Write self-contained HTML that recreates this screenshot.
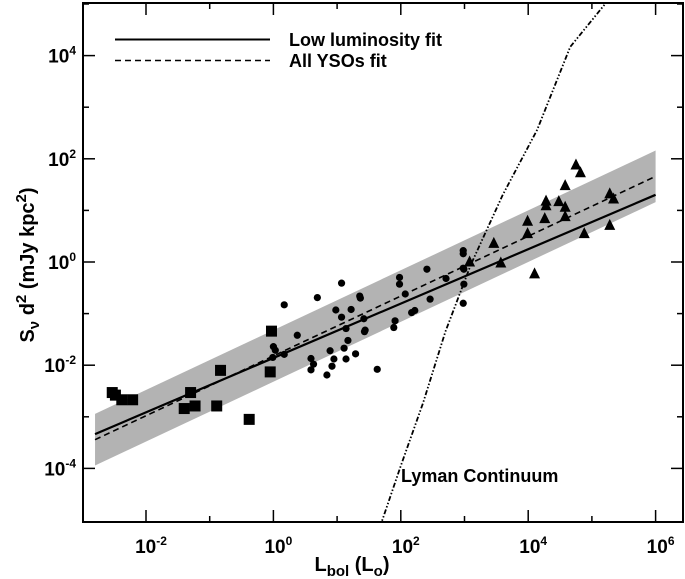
<!DOCTYPE html>
<html><head><meta charset="utf-8"><style>
html,body{margin:0;padding:0;background:#fff;}
svg{display:block;font-family:"Liberation Sans",Arial,sans-serif;font-weight:bold;}
</style></head><body>
<svg id="chart" width="685" height="579" viewBox="0 0 685 579" xmlns="http://www.w3.org/2000/svg">
<g id="plot"></g>
</svg>
<script>
// ---- data (log10 values) ----
const xTickExps = [-2, 0, 2, 4, 6];
const yTickExps = [-4, -2, 0, 2, 4];
const squaresX = [-2.53,-2.48,-2.38,-2.21,-1.30,-1.40,-1.23,-0.83,-0.89,-0.38,-0.03,-0.05];
const squaresY = [-2.53,-2.58,-2.67,-2.67,-2.53,-2.84,-2.79,-2.10,-2.79,-3.05,-1.34,-2.13];
const dotsX = [0.17,0.69,1.07,0.375,0.0,0.03,-0.01,0.17,0.59,0.63,0.59,0.84,0.89,0.95,0.92,1.11,1.17,1.14,1.29,1.14,0.98,1.07,1.22,1.355,1.365,1.42,1.44,1.43,1.63,1.91,1.89,1.98,1.98,2.07,2.17,2.22,2.41,2.46,2.71,2.98,2.98,2.99,2.99,2.98,2.98];
const dotsY = [-0.83,-0.69,-0.41,-1.42,-1.64,-1.71,-1.85,-1.79,-1.87,-1.98,-2.09,-2.19,-1.72,-1.88,-2.02,-1.67,-1.52,-1.88,-1.78,-1.29,-0.93,-1.07,-0.92,-0.66,-0.70,-1.10,-1.32,-1.35,-2.08,-1.14,-1.27,-0.30,-0.43,-0.62,-0.98,-0.94,-0.14,-0.72,-0.32,0.22,0.16,-0.14,-0.43,-0.80,-0.12];
const triX = [4.75,4.82,4.58,4.28,4.28,4.48,4.58,4.58,4.26,3.99,3.99,3.46,3.08,3.57,4.10,4.88,5.28,5.34,5.28];
const triY = [1.89,1.74,1.49,1.19,1.10,1.18,1.07,0.89,0.85,0.80,0.56,0.37,0.01,-0.01,-0.22,0.56,1.33,1.23,0.72];
const fitRange = [-2.8, 6.0];
const lowFit = [-1.86, 0.527];   // intercept, slope
const allFit = [-1.82, 0.58];
const bandHalf = [0.5];
const lymanX = [1.6,2.0,2.35,2.7,3.1,3.6,4.14,4.66,5.22,5.35];
const lymanY = [-5.4,-3.95,-2.73,-1.35,-0.05,1.3,2.56,4.17,5.02,5.3];

// ---- axes ----
const L=83,R=683,T=3,B=522;
const X=v=>146+63.7*(v+2);
const Y=v=>262-51.6*v;
const NS="http://www.w3.org/2000/svg";
const g=document.getElementById('plot');
function mk(tag,attrs,parent){const e=document.createElementNS(NS,tag);for(const k in attrs)e.setAttribute(k,attrs[k]);(parent||g).appendChild(e);return e;}

const defs=mk('defs',{});
const cp=mk('clipPath',{id:'clip'},defs);
mk('rect',{x:L,y:T,width:R-L,height:B-T},cp);

const bx0=fitRange[0],bx1=fitRange[1];
let band=mk('polygon',{points:[[X(bx0),Y(allFit[0]+allFit[1]*bx0+bandHalf[0])],[X(bx1),Y(allFit[0]+allFit[1]*bx1+bandHalf[0])],[X(bx1),Y(allFit[0]+allFit[1]*bx1-bandHalf[0])],[X(bx0),Y(allFit[0]+allFit[1]*bx0-bandHalf[0])]].map(p=>p.join(',')).join(' '),fill:'#b3b3b3'});



let lf=mk('line',{x1:X(bx0),y1:Y(lowFit[0]+lowFit[1]*bx0),x2:X(bx1),y2:Y(lowFit[0]+lowFit[1]*bx1),stroke:'#000','stroke-width':2.2});


let af=mk('line',{x1:X(bx0),y1:Y(allFit[0]+allFit[1]*bx0),x2:X(bx1),y2:Y(allFit[0]+allFit[1]*bx1),stroke:'#000','stroke-width':1.6,'stroke-dasharray':'6,4'});



let ly=mk('polyline',{points:lymanX.map((v,i)=>X(v)+','+Y(lymanY[i])).join(' '),fill:'none',stroke:'#000','stroke-width':1.8,'stroke-dasharray':'5,2,1.5,2,1.5,2','clip-path':'url(#clip)'});



squaresX.forEach((v,i)=>{const s=mk('rect',{x:X(v)-5.5,y:Y(squaresY[i])-5.5,width:11,height:11,fill:'#000'});

});
dotsX.forEach((v,i)=>{const c=mk('circle',{cx:X(v),cy:Y(dotsY[i]),r:3.6,fill:'#000'});

});
triX.forEach((v,i)=>{const x=X(v),y=Y(triY[i]);const t=mk('polygon',{points:`${x},${y-6} ${x-5.5},${y+5} ${x+5.5},${y+5}`,fill:'#000'});

});

let fr=mk('rect',{x:L,y:T,width:R-L,height:B-T,fill:'none',stroke:'#000','stroke-width':2});



for(let e=-2;e<=6;e++){const x=X(e);const len=(e%2===0)?12:6;
 mk('line',{x1:x,y1:B,x2:x,y2:B-len,stroke:'#000','stroke-width':1.5});
 mk('line',{x1:x,y1:T,x2:x,y2:T+len,stroke:'#000','stroke-width':1.5});}
for(let e=-4;e<=5;e++){const y=Y(e);if(y<T||y>B)continue;const len=(e%2===0)?12:6;
 mk('line',{x1:L,y1:y,x2:L+len,y2:y,stroke:'#000','stroke-width':1.5});
 mk('line',{x1:R,y1:y,x2:R-len,y2:y,stroke:'#000','stroke-width':1.5});}

xTickExps.forEach(e=>{const t=mk('text',{x:X(e)+5,y:553,'text-anchor':'middle','font-size':19});
 
 
 t.innerHTML='10<tspan dy="-8" font-size="12">'+e+'</tspan>';});
yTickExps.forEach(e=>{const t=mk('text',{x:76,y:Y(e)+7,'text-anchor':'end','font-size':19});
 
 
 t.innerHTML='10<tspan dy="-8" font-size="12">'+e+'</tspan>';});
</script>
<svg style="position:absolute;left:0;top:0" width="685" height="579" xmlns="http://www.w3.org/2000/svg" font-family="Liberation Sans, Arial, sans-serif" font-weight="bold">
<g>
<line x1="115" y1="39.5" x2="270" y2="39.5" stroke="#000" stroke-width="2"/>
<line x1="115" y1="60.5" x2="270" y2="60.5" stroke="#000" stroke-width="1.6" stroke-dasharray="6,4"/>
<text x="289" y="46" font-size="18">Low luminosity fit</text>
<text x="289" y="67" font-size="18">All YSOs fit</text>
</g>
<text x="401" y="482" font-size="18">Lyman Continuum</text>
<text x="352" y="571" text-anchor="middle" font-size="20">L<tspan dy="5" font-size="15">bol</tspan><tspan dy="-5"> (L</tspan><tspan dy="5" font-size="15">o</tspan><tspan dy="-5">)</tspan></text>
<text transform="translate(34,265) rotate(-90)" text-anchor="middle" font-size="20">S<tspan dy="5" font-size="15">ν</tspan><tspan dy="-5"> d</tspan><tspan dy="-8" font-size="15">2</tspan><tspan dy="8"> (mJy kpc</tspan><tspan dy="-8" font-size="15">2</tspan><tspan dy="8">)</tspan></text>
</svg>
</body></html>
